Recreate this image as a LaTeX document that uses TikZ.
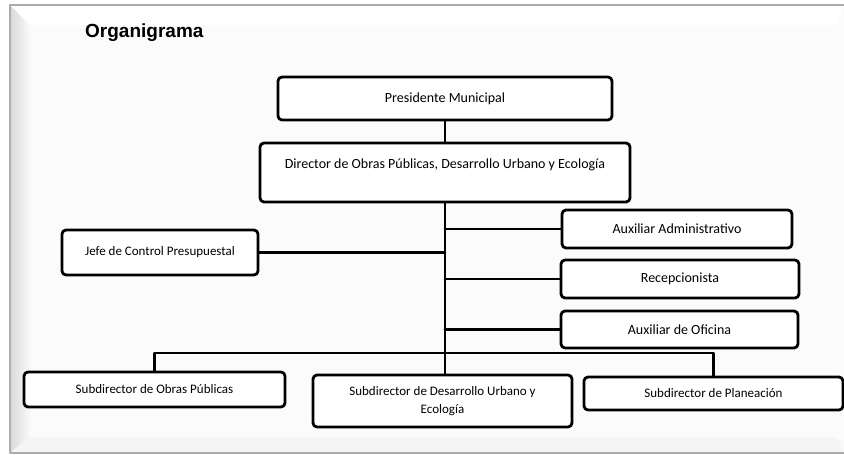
\documentclass[tikz,border=0pt]{standalone}
\usepackage{fontspec}
\newfontfamily\carlito{Carlito}
\newfontfamily\arial{Liberation Sans}
\tikzset{
  cargo/.style={draw, line width=2.8pt, rounded corners=4pt, fill=white, inner sep=0pt, align=center, font=\carlito\fontsize{14}{16}\selectfont},
  cargochico/.style={cargo, font=\carlito\fontsize{13}{18}\selectfont},
  enlace/.style={line width=2.8pt}
}
\begin{document}
\begin{tikzpicture}[line cap=round, line join=round, x=1pt, y=-1pt]
                \useasboundingbox (0, 0) rectangle (844, 455);

                % Marco
                \fill[gray!3] (10, 5) rectangle (844, 453);
                \shade[left color=gray!30, right color=gray!4] (10, 5) -- (30, 25) -- (30, 437) -- (10, 453) -- cycle;
                \fill[white] (10, 5) -- (844, 5) -- (837, 25) -- (30, 25) -- cycle;
                \fill[gray!8] (10, 453) -- (30, 437) -- (837, 437) -- (844, 453) -- cycle;
                \draw[gray!65, line width=1.5pt] (844, 5) -- (10, 5) -- (10, 453) -- (844, 453);

                \node[anchor=west, inner sep=0pt, font=\arial\bfseries\fontsize{19}{22}\selectfont] (titulo) at (85, 33) {Organigrama};

                % Nivel 1
                \node[cargo, minimum width=334pt, minimum height=43pt] (pres) at (445, 98.5) {Presidente Municipal};
                \node[cargo, minimum width=370pt, minimum height=59pt, text height=9pt, text depth=17pt] (dir) at (445, 172.5) {Director de Obras Públicas, Desarrollo Urbano y Ecología};

                % Staff
                \node[cargochico, minimum width=196pt, minimum height=45pt] (jefe) at (160, 252.5) {Jefe de Control Presupuestal};
                \node[cargo, minimum width=230pt, minimum height=38pt] (auxadm) at (677, 229) {Auxiliar Administrativo};
                \node[cargo, minimum width=238pt, minimum height=38pt] (recep) at (680, 279) {Recepcionista};
                \node[cargo, minimum width=237pt, minimum height=37pt] (auxofi) at (679.5, 329.5) {Auxiliar de Oficina};

                % Subdirecciones
                \node[cargochico, minimum width=261pt, minimum height=35pt] (sop) at (154.5, 389.5) {Subdirector de Obras Públicas};
                \node[cargochico, minimum width=259pt, minimum height=52pt] (sdu) at (442.5, 401) {Subdirector de Desarrollo Urbano y\\Ecología};
                \node[cargochico, minimum width=259pt, minimum height=33pt] (spl) at (713.5, 393.5) {Subdirector de Planeación};
                \coordinate (bus) at (446, 353);

                \draw[enlace] (pres) -- (dir);
                \draw[enlace] (dir.south) -- (dir.south |- sdu.north);
                \draw[enlace] (auxadm.west) -- (dir.south |- auxadm.west);
                \draw[enlace] (jefe.east) -- (dir.south |- jefe.east);
                \draw[enlace] (recep.west) -- (dir.south |- recep.west);
                \draw[enlace] (auxofi.west) -- (dir.south |- auxofi.west);
                \draw[enlace] (sop.north) |- (bus) -| (spl.north);
            \end{tikzpicture}
\end{document}
